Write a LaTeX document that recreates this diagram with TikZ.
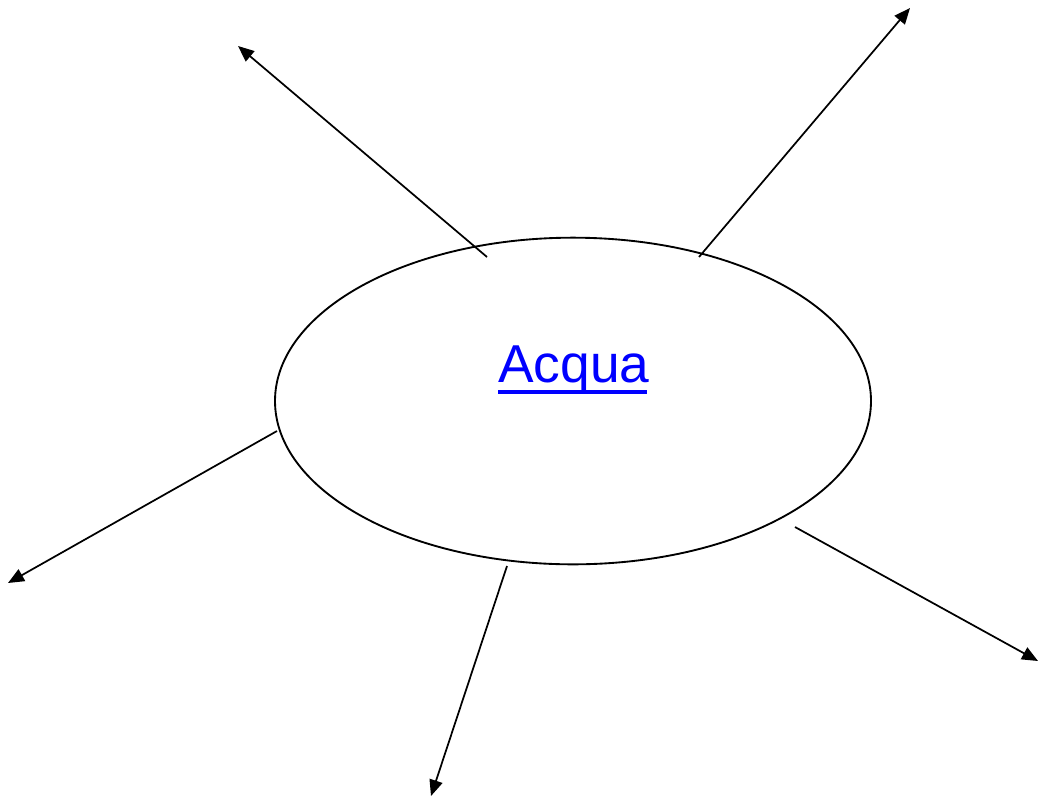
\documentclass[tikz,border=0pt]{standalone}
\usepackage{fontspec}
\setmainfont{Liberation Sans}
\usetikzlibrary{shapes.geometric, arrows.meta}
\definecolor{linkblue}{HTML}{0000FF}

\begin{document}
\begin{tikzpicture}[x=0.75pt, y=-0.75pt,
    spoke/.style={line width=1.3pt, -{Triangle[length=12pt, width=10pt]}}]
  \useasboundingbox (0,0) rectangle (1038,797);
  % central topic
  \node[ellipse, draw, line width=1.4pt, minimum width=447pt, minimum height=245pt,
        inner sep=0pt] (acqua) at (573,401) {};
  \node[anchor=base, text=linkblue, font=\fontsize{40}{40}\selectfont, inner sep=0pt]
        (label) at (574,382) {Acqua};
  \draw[linkblue, line width=3pt] (label.base west) ++(0,10) -- ++(149,0);
  % spoke ends
  \coordinate (s1) at (487,257);  \coordinate (e1) at (238,46);
  \coordinate (s2) at (699,257);  \coordinate (e2) at (910,8);
  \coordinate (s3) at (277,431);  \coordinate (e3) at (8,583);
  \coordinate (s4) at (507,566);  \coordinate (e4) at (431,796);
  \coordinate (s5) at (795,527);  \coordinate (e5) at (1038,661);
  \foreach \i in {1,...,5}
    \draw[spoke] (s\i) -- (e\i);
\end{tikzpicture}
\end{document}
